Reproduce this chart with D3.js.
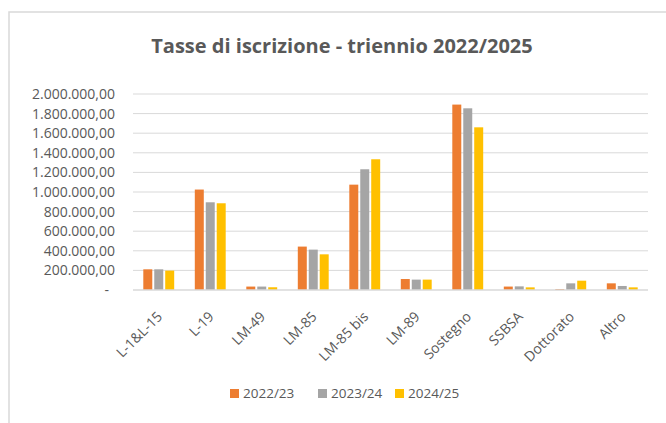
<!DOCTYPE html>
<html><head><meta charset="utf-8">
<script src="https://cdn.jsdelivr.net/npm/d3@7"></script>
<style>body{margin:0;background:#fff}svg{display:block}</style>
</head><body><svg id="c" width="666" height="423"></svg>
<script>
const categories = ["L-1&L-15","L-19","LM-49","LM-85","LM-85 bis","LM-89","Sostegno","SSBSA","Dottorato","Altro"];
const seriesNames = ["2022/23","2023/24","2024/25"];
const values2022 = [211000,1025000,35000,443000,1075000,112000,1892000,35000,10000,68000];
const values2023 = [211000,895000,35000,412000,1232000,106000,1854000,37000,68000,41000];
const values2024 = [198000,885000,28000,364000,1334000,106000,1660000,27000,95000,27000];
const yTicks = [0,200000,400000,600000,800000,1000000,1200000,1400000,1600000,1800000,2000000];
const colors = ["#ED7D31","#A5A5A5","#FFC000"];

const series = [values2022, values2023, values2024];
const svg = d3.select("#c");
const font = "'Open Sans', Calibri, sans-serif";
const txt = "#595959";

svg.append("rect").attr("x",9).attr("y",12).attr("width",700).attr("height",500)
  .attr("fill","#fff").attr("stroke","#D9D9D9").attr("stroke-width",1.5);

const pL=133, pR=648, pT=94, pB=290;
const x = d3.scaleBand().domain(categories).range([pL,pR]).paddingInner(0.4).paddingOuter(0.2);
const x1 = d3.scaleBand().domain(seriesNames).range([0,x.bandwidth()]).paddingInner(0.18);
const y = d3.scaleLinear().domain([0,2000000]).range([pB,pT]);

svg.append("text").attr("x",342).attr("y",53).attr("text-anchor","middle")
  .attr("font-family",font).attr("font-weight","bold").attr("font-size",20).attr("fill",txt)
  .text("Tasse di iscrizione - triennio 2022/2025");

const fmt = v => v===0 ? "-" : d3.formatLocale({decimal:",",thousands:".",grouping:[3],currency:["",""]}).format(",.2f")(v);

svg.append("g").selectAll("line").data(yTicks.slice(1)).join("line")
  .attr("x1",pL).attr("x2",pR).attr("y1",d=>y(d)).attr("y2",d=>y(d))
  .attr("stroke","#D9D9D9").attr("stroke-width",1);

const yAxis = svg.append("g").attr("transform",`translate(${pL-18},0)`)
  .call(d3.axisLeft(y).tickValues(yTicks).tickSize(0).tickFormat(fmt));
yAxis.select(".domain").remove();
yAxis.selectAll("text").attr("font-family",font).attr("font-size",14).attr("fill",txt).attr("x",0)
  .attr("dx", d=> d===0 ? -6 : 0);

const g = svg.append("g");
series.forEach((vals,si)=>{
  g.append("g").selectAll("rect").data(categories).join("rect")
    .attr("x",c=>x(c)+x1(seriesNames[si]))
    .attr("width",x1.bandwidth())
    .attr("y",(c,i)=>y(vals[i]))
    .attr("height",(c,i)=>pB-y(vals[i]))
    .attr("fill",colors[si]);
});

svg.append("line").attr("x1",pL).attr("x2",pR).attr("y1",pB).attr("y2",pB)
  .attr("stroke","#D9D9D9").attr("stroke-width",1.5);

const xAxis = svg.append("g").attr("transform",`translate(0,${pB})`)
  .call(d3.axisBottom(x).tickSize(0).tickFormat(d=>d));
xAxis.select(".domain").remove();
xAxis.selectAll("text").attr("font-family",font).attr("font-size",14).attr("fill",txt)
  .attr("text-anchor","end").attr("dy","0.35em").attr("y",0)
  .attr("transform",d=>`translate(1,24) rotate(-45)`);

const legX = [230,318,395];
const leg = svg.append("g");
seriesNames.forEach((s,i)=>{
  leg.append("rect").attr("x",legX[i]).attr("y",389).attr("width",9).attr("height",9).attr("fill",colors[i]);
  leg.append("text").attr("x",legX[i]+13).attr("y",398).attr("font-family",font).attr("font-size",13.5)
    .attr("fill",txt).text(s);
});
</script></body></html>
